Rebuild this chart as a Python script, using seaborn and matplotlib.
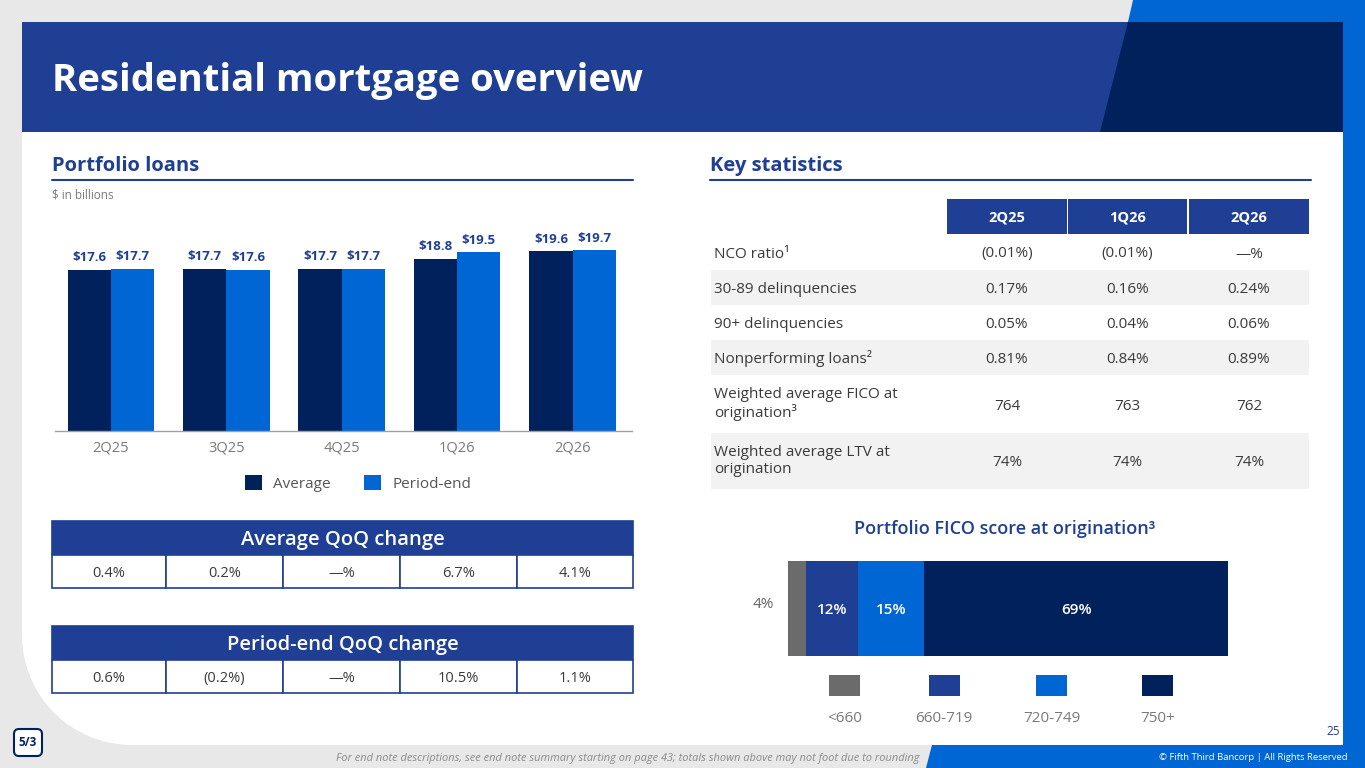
import numpy as np
import pandas as pd
import seaborn as sns
import matplotlib.pyplot as plt
from matplotlib.patches import Rectangle, Polygon, Circle, FancyBboxPatch

sns.set_theme(style="white")
plt.rcParams['font.family'] = ['Open Sans', 'DejaVu Sans']

# ---- data
quarters = ["2Q25", "3Q25", "4Q25", "1Q26", "2Q26"]
average_loans = [17.6, 17.7, 17.7, 18.8, 19.6]
period_end_loans = [17.7, 17.6, 17.7, 19.5, 19.7]

avg_qoq = ["0.4%", "0.2%", "\u2014%", "6.7%", "4.1%"]
pe_qoq = ["0.6%", "(0.2%)", "\u2014%", "10.5%", "1.1%"]

stat_periods = ["2Q25", "1Q26", "2Q26"]
stat_labels = ["NCO ratio\u00b9", "30-89 delinquencies", "90+ delinquencies",
               "Nonperforming loans\u00b2", "Weighted average FICO at\norigination\u00b3",
               "Weighted average LTV at\norigination"]
stat_2q25 = ["(0.01%)", "0.17%", "0.05%", "0.81%", "764", "74%"]
stat_1q26 = ["(0.01%)", "0.16%", "0.04%", "0.84%", "763", "74%"]
stat_2q26 = ["\u2014%", "0.24%", "0.06%", "0.89%", "762", "74%"]

fico_bands = ["<660", "660-719", "720-749", "750+"]
fico_share = [4, 12, 15, 69]

# colours
NAVY = "#00215c"
BRIGHT = "#0066d4"
ROYAL = "#1f3f94"
SEG_GRAY = "#6b6b6b"
TXT = "#3a3a3a"
MUTED = "#7a7a7a"

W, H = 1365, 768
fig = plt.figure(figsize=(W / 100, H / 100), dpi=100)
fig.patch.set_facecolor("#e8e8e8")

bg = fig.add_axes([0, 0, 1, 1])
bg.set_xlim(0, W)
bg.set_ylim(H, 0)
bg.axis("off")


def px_axes(x0, y0, x1, y1):
    return fig.add_axes([x0 / W, 1 - y1 / H, (x1 - x0) / W, (y1 - y0) / H])


def mid_text(x, y, s, size, **kw):
    # one-line text centred on cap height, so brackets don't shift it
    bg.text(x, y + 0.36 * size * 100 / 72, s, fontsize=size, va="baseline", **kw)


# ---- slide frame
R = 110
bg.add_patch(Rectangle((22, 22), 1321, 723 - R, fc="white", lw=0))
bg.add_patch(Rectangle((22 + R, 22), 1321 - R, 723, fc="white", lw=0))
bg.add_patch(Circle((22 + R, 745 - R), R, fc="white", lw=0))
bg.add_patch(Polygon([(1133, 0), (W, 0), (W, H), (926, H), (932, 745), (1343, 745),
                      (1343, 22), (1128, 22)], closed=True, fc=BRIGHT, lw=0))
bg.add_patch(Rectangle((22, 22), 1321, 110, fc=ROYAL, lw=0))
bg.add_patch(Polygon([(1128, 22), (1343, 22), (1343, 132), (1100, 132)], closed=True, fc=NAVY, lw=0))

mid_text(52, 77, "Residential mortgage overview", 27.5, color="white", fontweight="bold")

# section headers
for x0, x1, label in [(52, 633, "Portfolio loans"), (710, 1311, "Key statistics")]:
    mid_text(x0, 164, label, 14.5, color=ROYAL, fontweight="bold")
    bg.plot([x0, x1], [180, 180], color=ROYAL, lw=1.5)
mid_text(52, 194, "$ in billions", 8.5, color=MUTED)

# ---- portfolio loans bar chart
df = pd.DataFrame({
    "quarter": quarters * 2,
    "value": average_loans + period_end_loans,
    "series": ["Average"] * len(quarters) + ["Period-end"] * len(quarters),
})
ax = px_axes(55, 211, 632, 431)
sns.barplot(data=df, x="quarter", y="value", hue="series",
            palette={"Average": NAVY, "Period-end": BRIGHT}, saturation=1,
            width=0.75, linewidth=0, legend=False, ax=ax)
ax.set_facecolor("none")
ax.set_xlim(-0.485, 4.515)
ax.set_ylim(0, 24)
ax.set_xlabel("")
ax.set_ylabel("")
ax.set_yticks([])
for s in ["top", "right", "left"]:
    ax.spines[s].set_visible(False)
ax.spines["bottom"].set_color("#a0a0a0")
ax.spines["bottom"].set_linewidth(1)
ax.tick_params(axis="x", length=0, pad=7, labelsize=10.5, labelcolor=MUTED)
for c in ax.containers:
    ax.bar_label(c, fmt="${:.1f}", padding=4, fontsize=9.5, color=ROYAL, fontweight="bold")

# legend
for x, col, lab in [(245, NAVY, "Average"), (364, BRIGHT, "Period-end")]:
    bg.add_patch(Rectangle((x, 475), 17, 15, fc=col, lw=0))
    mid_text(x + 28, 482.5, lab, 11, color="#555555")


# ---- QoQ change tables
def band_table(y0, title, values):
    xs = [52, 166, 283, 400, 517, 633]
    bg.add_patch(Rectangle((xs[0], y0), xs[-1] - xs[0], 34, fc=ROYAL, ec=ROYAL, lw=1.2))
    mid_text((xs[0] + xs[-1]) / 2, y0 + 17, title, 14.5, color="white",
             fontweight="semibold", ha="center")
    for i, v in enumerate(values):
        bg.add_patch(Rectangle((xs[i], y0 + 34), xs[i + 1] - xs[i], 33, fc="white",
                               ec=ROYAL, lw=1.2))
        mid_text((xs[i] + xs[i + 1]) / 2, y0 + 50.5, v, 10.5, color=TXT, ha="center")


band_table(521, "Average QoQ change", avg_qoq)
band_table(626, "Period-end QoQ change", pe_qoq)

# ---- key statistics table
col_x = [(947, 1067), (1068, 1187), (1189, 1309)]
for (a, b), p in zip(col_x, stat_periods):
    bg.add_patch(Rectangle((a, 199), b - a, 35, fc=ROYAL, lw=0))
    mid_text((a + b) / 2, 216.5, p, 10.5, color="white", fontweight="bold", ha="center")
rb = [234, 270, 305, 340, 375, 433, 489]
columns = [stat_2q25, stat_1q26, stat_2q26]
for i, lab in enumerate(stat_labels):
    if i % 2 == 1:
        bg.add_patch(Rectangle((711, rb[i]), 598, rb[i + 1] - rb[i], fc="#f2f2f2", lw=0))
    ym = (rb[i] + rb[i + 1]) / 2
    if "\n" in lab:
        bg.text(714, ym, lab, color=TXT, fontsize=11, va="center", linespacing=1.2)
    else:
        mid_text(714, ym, lab, 11, color=TXT)
    for (a, b), col in zip(col_x, columns):
        mid_text((a + b) / 2, ym, col[i], 11, color=TXT, ha="center")

# ---- FICO distribution
mid_text(1005, 527, "Portfolio FICO score at origination\u00b3", 13, color=ROYAL,
         fontweight="semibold", ha="center")
fico_colors = [SEG_GRAY, ROYAL, BRIGHT, NAVY]
fax = px_axes(788, 561, 1228, 656)
lefts = np.cumsum([0] + fico_share[:-1])
fax.barh([0] * len(fico_share), fico_share, left=lefts, height=1, color=fico_colors, linewidth=0)
fax.set_xlim(0, 100)
fax.set_ylim(-0.5, 0.5)
fax.axis("off")
for l, s in zip(lefts, fico_share):
    if s < 5:
        fax.annotate(f"{s}%", xy=(0, 0), xytext=(-18, 4), textcoords="offset points",
                     ha="center", va="center_baseline", color="#666666", fontsize=11)
    else:
        fax.text(l + s / 2, 0, f"{s}%", color="white", fontsize=11, fontweight="semibold",
                 ha="center", va="center_baseline")

for cx, col, lab in zip([844.5, 944, 1051.5, 1157.5], fico_colors, fico_bands):
    bg.add_patch(Rectangle((cx - 15.5, 675), 31, 21, fc=col, lw=0))
    mid_text(cx, 717, lab, 11, color=MUTED, ha="center")

# ---- footer
bg.add_patch(FancyBboxPatch((14, 729), 28, 27, boxstyle="round,pad=0,rounding_size=5",
                            fc="white", ec=NAVY, lw=1.5))
bg.text(28, 743, "5/3", color=NAVY, fontsize=8.5, fontweight="bold", ha="center", va="center")
mid_text(1333, 731, "25", 8.5, color=ROYAL, ha="center")
mid_text(920, 757, "For end note descriptions, see end note summary starting on page 43; "
         "totals shown above may not foot due to rounding", 7.9, color="#8a8a8a",
         style="italic", ha="right")
mid_text(1348, 757, "\u00a9 Fifth Third Bancorp | All Rights Reserved", 6.8, color="white",
         ha="right")

fig.savefig("out.png", dpi=100, facecolor=fig.get_facecolor())
